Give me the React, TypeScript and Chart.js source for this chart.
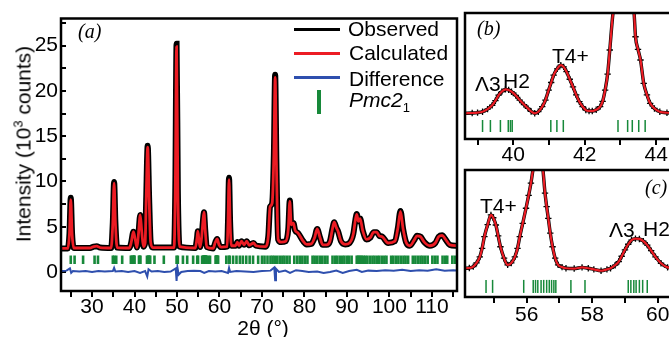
import React, { useEffect, useRef } from "react";
import { Chart, registerables } from "chart.js";

Chart.register(...registerables);

const SANS = "'Liberation Sans', Arimo, Arial, sans-serif";
const SERIF = "'Liberation Serif', 'Times New Roman', serif";
const BLACK = "#000000";
const RED = "#ec1c24";
const BLUE = "#2e4fae";
const GREEN = "#17893a";

// ---------- panel (a): full pattern, 2θ in degrees, intensity in 10^3 counts ----------
const mainTheta = [
  22.7, 24.3, 24.7, 25.0, 25.3, 25.7, 29.5, 30.4, 31.1, 31.9,
  34.5, 34.9, 35.2, 35.5, 35.9, 38.8, 39.2, 39.75, 40.2, 40.6,
  40.95, 41.35, 41.7, 42.1, 42.5, 42.75, 43.1, 43.45, 43.8, 44.3,
  49.3, 49.6, 49.9, 50.2, 50.6, 54.3, 54.7, 54.9, 55.2, 55.45,
  55.8, 56.1, 56.35, 56.65, 57.0, 58.5, 59.0, 59.45, 59.9, 60.4,
  61.8, 62.0, 62.25, 62.5, 62.8, 63.8, 64.2, 64.6, 65.2, 65.8,
  66.4, 67.0, 68.0, 68.6, 70.8, 71.5, 71.9, 72.4, 72.8, 73.1,
  73.4, 73.8, 74.5, 75.6, 76.2, 76.55, 76.9, 77.4, 77.8, 78.5,
  79.7, 80.5, 81.6, 82.4, 83.0, 83.6, 84.3, 85.2, 86.0, 86.6,
  87.0, 87.5, 87.9, 88.6, 89.6, 90.6, 91.5, 92.0, 92.3, 92.7,
  93.1, 93.7, 94.6, 95.5, 96.3, 97.0, 97.6, 98.3, 99.7, 101.3,
  102.0, 102.6, 103.2, 103.9, 104.8, 105.8, 106.5, 107.3, 108.2, 109.5,
  110.8, 111.6, 112.4, 113.2, 114.2, 115.9,
];
const mainObs = [
  2.6, 2.6, 4.3, 8.2, 4.3, 2.65, 2.65, 2.8, 2.85, 2.7,
  2.65, 5.5, 9.95, 5.5, 2.7, 2.65, 3.2, 4.45, 3.5, 2.7,
  4.3, 6.3, 4.5, 2.8, 3.2, 8.0, 13.95, 8.0, 3.3, 2.7,
  2.7, 9.0, 25.2, 9.0, 2.8, 2.65, 3.7, 4.5, 3.4, 2.75,
  3.8, 5.6, 6.6, 4.6, 2.75, 2.6, 3.25, 3.65, 3.0, 2.75,
  2.8, 5.5, 10.4, 5.5, 2.9, 2.9, 3.3, 2.9, 3.4, 3.0,
  3.4, 2.95, 3.2, 2.9, 2.8, 4.0, 7.2, 7.6, 13.0, 21.8,
  12.0, 3.6, 3.3, 3.4, 4.8, 7.9, 5.2, 5.4, 4.6, 4.3,
  3.4, 3.05, 3.1, 3.8, 4.75, 3.9, 3.0, 3.0, 3.4, 4.8,
  5.5, 4.9, 4.5, 3.4, 3.05, 3.2, 4.2, 5.8, 6.4, 5.6,
  5.9, 4.6, 3.6, 3.8, 4.4, 4.4, 4.0, 3.9, 3.2, 3.4,
  4.9, 6.75, 4.8, 3.3, 2.9, 3.5, 4.0, 3.9, 3.3, 2.9,
  3.2, 3.9, 4.05, 3.6, 3.0, 2.9,
];
const mainCalc = [
  2.6, 2.6, 4.3, 8.0, 4.3, 2.65, 2.65, 2.8, 2.85, 2.7,
  2.65, 5.5, 9.8, 5.5, 2.7, 2.65, 3.2, 4.45, 3.5, 2.7,
  4.3, 6.3, 4.5, 2.8, 3.2, 8.0, 13.8, 8.0, 3.3, 2.7,
  2.7, 9.0, 24.9, 9.0, 2.8, 2.65, 3.7, 4.5, 3.4, 2.75,
  3.8, 5.6, 6.6, 4.6, 2.75, 2.6, 3.25, 3.65, 3.0, 2.75,
  2.8, 5.5, 10.2, 5.5, 2.9, 2.9, 3.3, 2.9, 3.4, 3.0,
  3.4, 2.95, 3.2, 2.9, 2.8, 4.0, 7.2, 7.6, 13.0, 21.5,
  12.0, 3.6, 3.3, 3.4, 4.8, 7.8, 5.2, 5.4, 4.6, 4.3,
  3.4, 3.05, 3.1, 3.8, 4.75, 3.9, 3.0, 3.0, 3.4, 4.8,
  5.5, 4.9, 4.5, 3.4, 3.05, 3.2, 4.2, 5.8, 6.35, 5.6,
  5.9, 4.6, 3.6, 3.8, 4.4, 4.4, 4.0, 3.9, 3.2, 3.4,
  4.9, 6.7, 4.8, 3.3, 2.9, 3.5, 4.0, 3.9, 3.3, 2.9,
  3.2, 3.9, 4.05, 3.6, 3.0, 2.9,
];
const diffTheta = [
  22.7, 24.0, 24.8, 25.1, 25.5, 27.0, 28.5, 30.0, 31.5, 33.0,
  34.9, 35.2, 35.5, 37.0, 38.5, 40.0, 41.3, 42.5, 43.0, 43.3,
  44.0, 45.5, 47.0, 48.5, 49.7, 49.9, 50.1, 50.4, 51.0, 52.5,
  54.0, 55.5, 56.4, 57.5, 59.0, 60.5, 62.0, 62.25, 62.5, 64.0,
  66.0, 68.0, 70.0, 72.0, 72.9, 73.1, 73.3, 74.0, 75.5, 76.6,
  78.0, 79.5, 81.0, 83.0, 84.5, 86.0, 87.5, 89.0, 90.5, 92.3,
  93.5, 95.0, 97.0, 99.0, 101.0, 103.0, 105.0, 107.0, 109.0, 111.0,
  113.0, 115.0, 115.9,
];
const diffValues = [
  0.1, 0.15, 0.4, -0.1, 0.1, 0.05, 0.1, 0.0, 0.1, 0.05,
  0.1, 0.45, 0.05, 0.1, 0.0, 0.1, -0.1, 0.1, -0.5, 0.3,
  0.05, 0.1, 0.0, 0.05, 0.4, -1.0, 0.5, -0.3, 0.0, 0.1,
  0.15, 0.1, -0.1, 0.1, 0.05, 0.1, -0.1, 0.45, 0.0, 0.1,
  0.05, 0.0, 0.1, 0.15, 0.5, -0.9, 0.35, 0.0, 0.15, -0.1,
  0.2, 0.1, 0.0, 0.05, -0.1, 0.0, 0.15, -0.1, 0.1, 0.25,
  0.0, 0.15, 0.1, 0.2, 0.15, 0.25, 0.1, 0.2, 0.15, 0.3,
  0.15, 0.2, 0.15,
];
// Bragg reflection positions of the Pmc2_1 phase (2θ, degrees)
const reflections = [
  25.0, 25.9, 27.9, 30.6, 31.4, 34.9, 35.2, 35.7, 37.1,
  39.14, 39.36, 39.64, 39.86, 39.92, 39.97, 41.05, 41.22, 41.4,
  42.93, 43.2, 43.33, 43.51, 43.69, 44.7, 46.9, 49.9, 50.2, 51.4, 52.4, 53.8,
  54.76, 54.96, 55.91, 56.2, 56.27, 56.34, 56.44, 56.52, 56.61, 56.69, 56.76,
  56.83, 56.89, 57.35, 57.78, 59.1, 59.18, 59.27, 59.34, 59.44, 59.54, 59.68,
  61.6, 62.2, 62.4, 63.2, 64.0, 64.8, 65.5, 66.3, 67.1, 67.9, 69.1,
  70.0, 70.6, 71.3, 72.0, 72.5, 73.0, 73.6, 74.2, 74.8, 75.3, 75.9, 76.5,
  77.6, 78.3, 78.9, 79.5, 80.1, 80.7, 81.9, 82.4, 83.0, 83.6, 84.2, 84.8,
  85.4, 86.6, 87.2, 87.7, 88.3, 88.9, 89.4, 90.0, 90.5, 91.1, 92.3, 92.6,
  92.9, 93.2, 93.5, 93.9, 94.3, 94.8, 95.4, 96.0, 96.5, 97.1, 97.6, 98.2,
  98.8, 99.3, 100.4, 100.9, 101.5, 102.1, 102.7, 103.3, 103.8, 104.4, 105.5,
  106.1, 106.7, 107.3, 107.8, 108.4, 109.0, 110.1, 110.7, 111.3, 112.5,
  113.1, 113.6, 114.8, 115.4,
];

// ---------- panel (b): 38.6–44.6° ----------
const bTheta = [
  38.65, 38.85, 39.0, 39.14, 39.28, 39.41, 39.5, 39.59, 39.68, 39.78,
  39.87, 39.95, 40.07, 40.18, 40.3, 40.41, 40.5, 40.6, 40.7, 40.81,
  40.9, 40.99, 41.06, 41.13, 41.23, 41.33, 41.41, 41.49, 41.58, 41.67,
  41.76, 41.85, 41.94, 42.03, 42.12, 42.21, 42.32, 42.43, 42.5, 42.57,
  42.64, 42.7, 42.79, 42.95, 43.08, 43.22, 43.38, 43.42, 43.49, 43.56,
  43.65, 43.74, 43.83, 43.95, 44.1, 44.3, 44.6,
];
const bObs = [
  2.58, 2.6, 2.63, 2.7, 2.9, 3.2, 3.55, 3.98, 4.25, 4.42,
  4.38, 4.24, 3.95, 3.6, 3.25, 2.96, 2.72, 2.58, 2.7, 3.09,
  3.6, 4.37, 4.95, 5.52, 6.0, 6.29, 6.15, 5.78, 5.2, 4.62,
  4.0, 3.47, 3.1, 2.83, 2.76, 2.75, 2.85, 3.09, 3.5, 4.37,
  5.6, 7.45, 10.3, 13.0, 14.0, 13.2, 10.3, 8.47, 7.5, 6.68,
  4.88, 4.0, 3.35, 2.95, 2.7, 2.62, 2.6,
];
const bCalc = bObs.slice();
const bReflections = [
  39.14, 39.36, 39.64, 39.86, 39.92, 39.97, 41.05, 41.22, 41.4,
  42.93, 43.2, 43.33, 43.51, 43.69,
];

// ---------- panel (c): 54.1–60.6° ----------
const cTheta = [
  54.13, 54.25, 54.37, 54.47, 54.57, 54.64, 54.71, 54.81, 54.91, 54.98,
  55.06, 55.13, 55.2, 55.31, 55.42, 55.53, 55.64, 55.72, 55.79, 55.88,
  55.98, 56.06, 56.13, 56.22, 56.35, 56.48, 56.56, 56.61, 56.66, 56.72,
  56.79, 56.87, 56.96, 57.08, 57.2, 57.45, 57.69, 57.88, 58.05, 58.27,
  58.45, 58.56, 58.7, 58.81, 58.9, 59.0, 59.1, 59.2, 59.32, 59.44,
  59.56, 59.68, 59.8, 59.93, 60.1, 60.3, 60.6,
];
const cObs = [
  2.59, 2.6, 2.65, 2.78, 3.0, 3.3, 3.72, 4.15, 4.5, 4.4,
  4.14, 3.75, 3.36, 2.95, 2.71, 2.78, 3.0, 3.3, 3.72, 4.2,
  4.74, 5.2, 5.64, 6.3, 6.7, 6.3, 5.28, 4.8, 4.38, 3.85,
  3.36, 2.95, 2.71, 2.63, 2.59, 2.58, 2.62, 2.59, 2.55, 2.5,
  2.55, 2.59, 2.7, 2.83, 3.02, 3.25, 3.45, 3.6, 3.65, 3.64,
  3.56, 3.42, 3.22, 3.0, 2.77, 2.62, 2.58,
];
const cCalc = cObs.slice();
const cReflections = [
  54.76, 54.96, 55.91, 56.2, 56.27, 56.34, 56.44, 56.52, 56.61, 56.69, 56.76,
  56.83, 56.89, 57.35, 57.78, 59.1, 59.18, 59.27, 59.34, 59.44, 59.54, 59.68,
];

// ---------- tick labels ----------
const mainXLabels = [30, 40, 50, 60, 70, 80, 90, 100, 110];
const mainYLabels = [0, 5, 10, 15, 20, 25];
const bXLabels = [40, 42, 44];
const cXLabels = [56, 58, 60];

const pts = (xs: number[], ys: number[]) => xs.map((x, i) => ({ x, y: ys[i] }));
const level = (xs: number[], y: number) => xs.map((x) => ({ x, y }));
const near = (arr: number[], v: number) => arr.some((a) => Math.abs(a - v) < 1e-6);

const framePlugin = {
  id: "frame",
  afterDatasetsDraw(chart: any) {
    const { ctx, chartArea: a } = chart;
    ctx.save();
    ctx.strokeStyle = BLACK;
    ctx.lineWidth = 2.5;
    ctx.strokeRect(a.left, a.top, a.right - a.left, a.bottom - a.top);
    ctx.restore();
  },
};

const tickFont = { family: SANS, size: 21, lineHeight: 1 };

function xScale(min: number, max: number, step: number, labels: number[], height: number, pad: number) {
  return {
    type: "linear",
    min,
    max,
    afterFit: (s: any) => {
      s.height = height;
    },
    border: { display: false },
    grid: {
      drawOnChartArea: false,
      drawTicks: true,
      tickLength: 6,
      color: BLACK,
      tickColor: BLACK,
      lineWidth: 2,
      tickWidth: 2,
    },
    ticks: {
      stepSize: step,
      includeBounds: false,
      autoSkip: false,
      maxRotation: 0,
      minRotation: 0,
      padding: pad,
      color: BLACK,
      font: tickFont,
      callback: (v: any) => (near(labels, Number(v)) ? String(v) : ""),
    },
  };
}

function plainY(min: number, max: number, width: number) {
  return {
    type: "linear",
    min,
    max,
    afterFit: (s: any) => {
      s.width = width;
    },
    border: { display: false },
    grid: { display: false },
    ticks: { display: false },
  };
}

export default function App() {
  const aRef = useRef<HTMLCanvasElement>(null);
  const bRef = useRef<HTMLCanvasElement>(null);
  const cRef = useRef<HTMLCanvasElement>(null);

  useEffect(() => {
    const charts: Chart[] = [];

    // Chart.js paints the first dataset on top, so the list runs top → bottom.
    charts.push(
      new Chart(aRef.current as HTMLCanvasElement, {
        type: "line",
        data: {
          datasets: [
            {
              label: "Calculated",
              data: pts(mainTheta, mainCalc),
              borderColor: RED,
              borderWidth: 2.8,
              pointRadius: 0,
              cubicInterpolationMode: "monotone",
            },
            {
              label: "Observed",
              data: pts(mainTheta, mainObs),
              borderColor: BLACK,
              borderWidth: 6,
              pointStyle: "rect",
              pointRadius: 2.8,
              pointBackgroundColor: BLACK,
              pointBorderColor: BLACK,
              pointBorderWidth: 0,
              cubicInterpolationMode: "monotone",
            },
            {
              label: "Pmc2_1",
              type: "scatter",
              data: level(reflections, 1.35),
              showLine: false,
              pointStyle: "line",
              rotation: 90,
              pointRadius: 4.3,
              borderColor: GREEN,
              pointBorderColor: GREEN,
              pointBorderWidth: 2.6,
            },
            {
              label: "Difference",
              data: pts(diffTheta, diffValues),
              borderColor: BLUE,
              borderWidth: 2,
              pointRadius: 0,
              tension: 0,
            },
          ] as any,
        },
        options: {
          animation: false,
          responsive: false,
          maintainAspectRatio: false,
          layout: { padding: { top: 12, right: 8, left: 0, bottom: 0 } },
          plugins: { legend: { display: false }, tooltip: { enabled: false } },
          scales: {
            x: xScale(22.7, 115.9, 5, mainXLabels, 46, 0) as any,
            y: {
              type: "linear",
              min: -2.1,
              max: 28,
              afterFit: (s: any) => {
                s.width = 61;
              },
              border: { display: false },
              grid: {
                drawOnChartArea: false,
                drawTicks: true,
                tickLength: -5,
                color: BLACK,
                tickColor: BLACK,
                lineWidth: 2,
                tickWidth: 2,
              },
              ticks: {
                stepSize: 2.5,
                includeBounds: false,
                autoSkip: false,
                padding: 8,
                color: BLACK,
                font: tickFont,
                callback: (v: any) => (near(mainYLabels, Number(v)) ? String(v) : ""),
              },
            } as any,
          },
        },
        plugins: [framePlugin],
      })
    );

    const zoomPanel = (
      el: HTMLCanvasElement,
      th: number[],
      obs: number[],
      calc: number[],
      refl: number[],
      reflY: number,
      reflR: number,
      xmin: number,
      xmax: number,
      ymin: number,
      ymax: number,
      labels: number[],
      padTop: number,
      xHeight: number,
      labelPad: number
    ) =>
      new Chart(el, {
        type: "line",
        data: {
          datasets: [
            {
              label: "Calculated",
              data: pts(th, calc),
              borderColor: RED,
              borderWidth: 2.2,
              pointRadius: 0,
              cubicInterpolationMode: "monotone",
            },
            {
              label: "Observed",
              data: pts(th, obs),
              borderColor: BLACK,
              borderWidth: 3.4,
              pointStyle: "cross",
              pointRadius: 3.2,
              pointBorderColor: BLACK,
              pointBorderWidth: 1.3,
              cubicInterpolationMode: "monotone",
            },
            {
              label: "Pmc2_1",
              type: "scatter",
              data: level(refl, reflY),
              showLine: false,
              pointStyle: "line",
              rotation: 90,
              pointRadius: reflR,
              pointBorderColor: GREEN,
              borderColor: GREEN,
              pointBorderWidth: 1.5,
            },
          ] as any,
        },
        options: {
          animation: false,
          responsive: false,
          maintainAspectRatio: false,
          layout: { padding: { top: padTop, right: 0, left: 0, bottom: 0 } },
          plugins: { legend: { display: false }, tooltip: { enabled: false } },
          scales: {
            x: xScale(xmin, xmax, 1, labels, xHeight, labelPad) as any,
            y: plainY(ymin, ymax, 20) as any,
          },
        },
        plugins: [framePlugin],
      });

    charts.push(
      zoomPanel(bRef.current as HTMLCanvasElement, bTheta, bObs, bCalc, bReflections, 1.6, 6,
        38.649, 44.595, 0.6, 10.3, bXLabels, 13, 31, 0)
    );
    charts.push(
      zoomPanel(cRef.current as HTMLCanvasElement, cTheta, cObs, cCalc, cReflections, 1.94, 6.5,
        54.118, 60.588, 1.56, 6.11, cXLabels, 10, 40, 1.5)
    );

    return () => {
      charts.forEach((c) => c.destroy());
    };
  }, []);

  const txt = (left: number, top: number, extra: any = {}): any => ({
    position: "absolute",
    left,
    top,
    font: `21px/21px ${SANS}`,
    color: BLACK,
    whiteSpace: "nowrap",
    ...extra,
  });
  const panelLabel = (left: number, top: number): any => ({
    position: "absolute",
    left,
    top,
    font: `italic 20px/20px ${SERIF}`,
    color: BLACK,
    whiteSpace: "nowrap",
  });
  const legendLine = (top: number, color: string): any => ({
    position: "absolute",
    left: 294,
    top,
    width: 46,
    height: 3,
    background: color,
  });

  return (
    <div
      style={{
        position: "absolute",
        left: 0,
        top: 0,
        width: 669,
        height: 337,
        overflow: "hidden",
        background: "#fff",
      }}
    >
      <canvas ref={aRef} width={465} height={337} style={{ position: "absolute", left: 0, top: 0, width: 465, height: 337 }} />
      <canvas ref={bRef} width={240} height={170} style={{ position: "absolute", left: 445, top: 0, width: 240, height: 170 }} />
      <canvas ref={cRef} width={240} height={177} style={{ position: "absolute", left: 445, top: 160, width: 240, height: 177 }} />

      {/* axis titles */}
      <div
        style={{
          position: "absolute",
          left: 22.7,
          top: 144,
          transform: "translate(-50%, -50%) rotate(-90deg)",
          font: `21px/21px ${SANS}`,
          whiteSpace: "nowrap",
          color: BLACK,
        }}
      >
        Intensity (10<sup style={{ fontSize: 13, lineHeight: 0, verticalAlign: 8 }}>3</sup> counts)
      </div>
      <div style={txt(263, 317, { transform: "translateX(-50%)" })}>2θ (°)</div>

      {/* panel labels */}
      <div style={panelLabel(78, 21)}>(a)</div>
      <div style={panelLabel(477, 18)}>(b)</div>
      <div style={panelLabel(645, 177)}>(c)</div>

      {/* legend */}
      <div style={legendLine(27.5, BLACK)} />
      <div style={legendLine(52, RED)} />
      <div style={legendLine(76, BLUE)} />
      <div style={{ position: "absolute", left: 317, top: 90, width: 4, height: 24, background: GREEN }} />
      <div style={txt(348, 18.2)}>Observed</div>
      <div style={txt(349, 42.2)}>Calculated</div>
      <div style={txt(349, 68.2)}>Difference</div>
      <div style={txt(349, 89.2)}>
        <i>Pmc2</i>
        <sub style={{ fontSize: 13, lineHeight: 0, verticalAlign: -5 }}>1</sub>
      </div>

      {/* peak annotations */}
      <div style={txt(475, 73)}>Λ3</div>
      <div style={txt(503, 70)}>H2</div>
      <div style={txt(552, 45)}>T4+</div>
      <div style={txt(480, 195)}>T4+</div>
      <div style={txt(609, 219)}>Λ3</div>
      <div style={txt(643, 218)}>H2</div>
    </div>
  );
}
